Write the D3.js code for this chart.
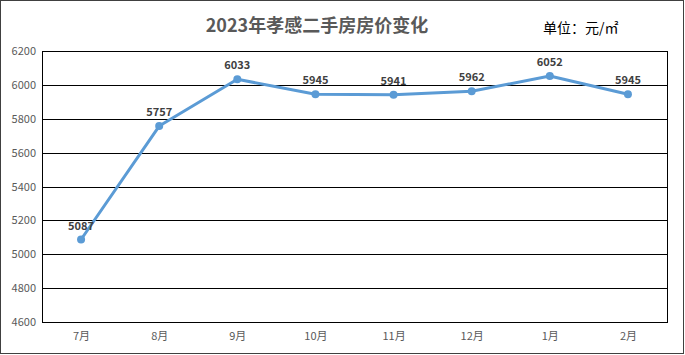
<!DOCTYPE html>
<head>
<meta charset="utf-8">
<script src="https://cdn.jsdelivr.net/npm/d3@7"></script>
<style>
  body { margin: 0; background: #fff; }
  text { font-family: "Microsoft YaHei", "Noto Sans CJK SC", sans-serif; }
</style>
</head>
<body>
<div id="container"></div>
<script>
// Données
const months = ["7月", "8月", "9月", "10月", "11月", "12月", "1月", "2月"];
const prices = [5087, 5757, 6033, 5945, 5941, 5962, 6052, 5945];
const yTicks = [4600, 4800, 5000, 5200, 5400, 5600, 5800, 6000, 6200];

const W = 685, H = 355;
const marginLeft = 42, marginRight = 18, marginTop = 51, marginBottom = 33;
const width = W - marginLeft - marginRight;
const height = H - marginTop - marginBottom;

const svg = d3.select("#container").append("svg")
  .attr("width", W).attr("height", H);

// cadre extérieur
svg.append("rect")
  .attr("x", 0.5).attr("y", 0.5)
  .attr("width", W - 2).attr("height", H - 2)
  .attr("fill", "#fff").attr("stroke", "#404040");

// titre
svg.append("text")
  .attr("x", 317).attr("y", 32)
  .attr("text-anchor", "middle")
  .attr("font-size", 18).attr("font-weight", "bold")
  .attr("fill", "#595959")
  .text("2023年孝感二手房房价变化");

svg.append("text")
  .attr("x", 543).attr("y", 33)
  .attr("font-size", 14).attr("fill", "#000")
  .text("单位：元/㎡");

const g = svg.append("g")
  .attr("transform", `translate(${marginLeft},${marginTop})`);

const x = d3.scalePoint().domain(months).range([0, width]).padding(0.5);
const y = d3.scaleLinear().domain([4600, 6200]).range([height, 0]);

// grille
g.selectAll(".grid").data(yTicks).enter().append("line")
  .attr("x1", 0).attr("x2", width)
  .attr("y1", d => Math.round(y(d)) + 0.5).attr("y2", d => Math.round(y(d)) + 0.5)
  .attr("stroke", "#000").attr("stroke-width", 1);

g.append("rect")
  .attr("x", 0.5).attr("y", 0.5)
  .attr("width", width).attr("height", height)
  .attr("fill", "none").attr("stroke", "#000");

// axe Y
const yAxis = g.append("g")
  .call(d3.axisLeft(y).tickValues(yTicks).tickFormat(d3.format("d")).tickSize(0).tickPadding(6));
yAxis.select(".domain").remove();
yAxis.selectAll("text").attr("font-size", 11).attr("fill", "#595959")
  .attr("font-family", "Liberation Sans, sans-serif");

// axe X
const xAxis = g.append("g")
  .attr("transform", `translate(0,${height})`)
  .call(d3.axisBottom(x).tickSize(0).tickPadding(10));
xAxis.select(".domain").remove();
xAxis.selectAll("text").attr("font-size", 11).attr("fill", "#595959");

// ligne
const line = d3.line().x((d, i) => x(months[i])).y(d => y(d));
g.append("path").datum(prices)
  .attr("d", line)
  .attr("fill", "none")
  .attr("stroke", "#5B9BD5")
  .attr("stroke-width", 3)
  .attr("stroke-linejoin", "round");

g.selectAll(".pt").data(prices).enter().append("circle")
  .attr("cx", (d, i) => x(months[i])).attr("cy", d => y(d))
  .attr("r", 4).attr("fill", "#5B9BD5");

// étiquettes
g.selectAll(".lbl").data(prices).enter().append("text")
  .attr("x", (d, i) => x(months[i])).attr("y", d => y(d) - 10)
  .attr("text-anchor", "middle")
  .attr("font-size", 11).attr("font-weight", "bold")
  .attr("fill", "#404040")
  .attr("font-family", "Liberation Sans, sans-serif")
  .text(d => d);
</script>
</body>
